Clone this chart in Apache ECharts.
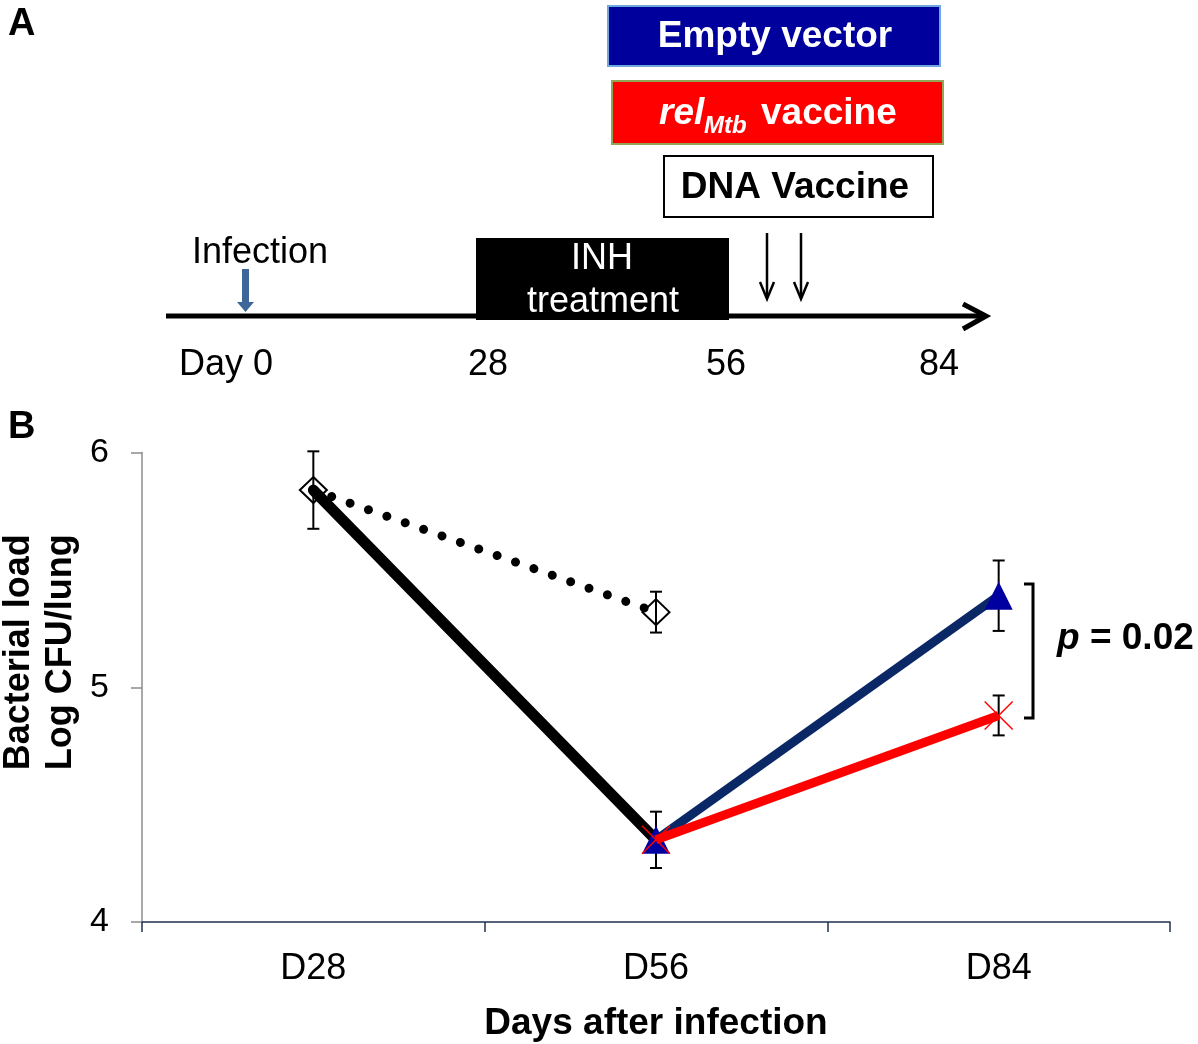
<!DOCTYPE html>
<html>
<head>
<meta charset="utf-8">
<title>Bacterial load</title>
<script src="https://cdn.jsdelivr.net/npm/echarts@6/dist/echarts.min.js"></script>
<style>
  html, body { margin: 0; padding: 0; background: #fff; }
  #main { width: 1198px; height: 1044px; }
</style>
</head>
<body>
<div id="main"></div>
<script>
// panel B data (log CFU / lung)
var categories = ['D28', 'D56', 'D84'];
var inhContinued = [5.84, 5.32, null];
var inhContinuedErr = [0.165, 0.087, null];
var inhStopped = [5.84, 4.35, null];
var inhStoppedErr = [null, 0.12, null];
var emptyVector = [null, 4.35, 5.39];
var emptyVectorErr = [null, null, 0.15];
var relVaccine = [null, 4.35, 4.88];
var relVaccineErr = [null, null, 0.085];
var yTicks = [4, 5, 6];
var pLabel = ['p', ' = 0.02'];

// panel A text
var timelineLabels = ['Day 0', '28', '56', '84'];

var FONT = '"Liberation Sans", Arial, sans-serif';

// error bars: [categoryIndex, value, err]
var errData = [];
[[inhContinued, inhContinuedErr], [inhStopped, inhStoppedErr],
 [emptyVector, emptyVectorErr], [relVaccine, relVaccineErr]].forEach(function (p) {
  p[0].forEach(function (v, i) {
    if (v != null && p[1][i] != null) errData.push([i, v, p[1][i]]);
  });
});

function renderErr(params, api) {
  var i = api.value(0), v = api.value(1), e = api.value(2);
  var hi = api.coord([i, v + e]);
  var lo = api.coord([i, v - e]);
  var w = 6;
  var st = { stroke: '#000', lineWidth: 2 };
  return {
    type: 'group',
    children: [
      { type: 'line', shape: { x1: hi[0], y1: hi[1], x2: lo[0], y2: lo[1] }, style: st },
      { type: 'line', shape: { x1: hi[0] - w, y1: hi[1], x2: hi[0] + w, y2: hi[1] }, style: st },
      { type: 'line', shape: { x1: lo[0] - w, y1: lo[1], x2: lo[0] + w, y2: lo[1] }, style: st }
    ]
  };
}

function txt(x, y, text, size, opts) {
  opts = opts || {};
  return {
    type: 'text', x: x, y: y, z: 10,
    style: {
      text: text,
      font: (opts.style || '') + ' ' + (opts.weight || 'normal') + ' ' + size + 'px ' + FONT,
      fill: opts.fill || '#000',
      align: opts.align || 'center',
      verticalAlign: 'middle'
    }
  };
}

var graphics = [
  txt(8, 25, 'A', 38, { weight: 'bold', align: 'left' }),
  txt(8, 428, 'B', 38, { weight: 'bold', align: 'left' }),

  // timeline
  { type: 'polyline', z: 10, shape: { points: [[166, 316], [984, 316]] }, style: { stroke: '#000', lineWidth: 5 } },
  { type: 'polyline', z: 10, shape: { points: [[963, 304], [986, 316], [963, 329]] }, style: { stroke: '#000', lineWidth: 5, fill: null } },

  // infection arrow
  { type: 'rect', z: 10, shape: { x: 242, y: 269, width: 7, height: 34 }, style: { fill: '#3e6699' } },
  { type: 'polygon', z: 10, shape: { points: [[237, 302], [254, 302], [245.5, 312]] }, style: { fill: '#3e6699' } },
  txt(260, 253, 'Infection', 36),

  // INH box
  { type: 'rect', z: 10, shape: { x: 476, y: 238, width: 253, height: 82 }, style: { fill: '#000' } },
  txt(602, 259, 'INH', 36, { fill: '#fff' }),
  txt(603, 302, 'treatment', 36, { fill: '#fff' }),

  // vaccine arrows
  { type: 'polyline', z: 10, shape: { points: [[767, 233], [767, 298]] }, style: { stroke: '#000', lineWidth: 2.5 } },
  { type: 'polyline', z: 10, shape: { points: [[760, 282], [767, 299], [774, 282]] }, style: { stroke: '#000', lineWidth: 2.5, fill: null } },
  { type: 'polyline', z: 10, shape: { points: [[801, 233], [801, 298]] }, style: { stroke: '#000', lineWidth: 2.5 } },
  { type: 'polyline', z: 10, shape: { points: [[794, 282], [801, 299], [808, 282]] }, style: { stroke: '#000', lineWidth: 2.5, fill: null } },

  // legend-like boxes
  { type: 'rect', z: 10, shape: { x: 608, y: 6, width: 332, height: 60 }, style: { fill: '#00009c', stroke: '#6fa8dc', lineWidth: 2 } },
  txt(775, 37, 'Empty vector', 37, { weight: 'bold', fill: '#fff' }),
  { type: 'rect', z: 10, shape: { x: 612, y: 81, width: 331, height: 63 }, style: { fill: '#ff0000', stroke: '#93a556', lineWidth: 2 } },
  txt(659, 114, 'rel', 37, { weight: 'bold', style: 'italic', fill: '#fff', align: 'left' }),
  txt(704, 126, 'Mtb', 24, { weight: 'bold', style: 'italic', fill: '#fff', align: 'left' }),
  txt(761, 114, 'vaccine', 37, { weight: 'bold', fill: '#fff', align: 'left' }),
  { type: 'rect', z: 10, shape: { x: 664, y: 156, width: 269, height: 61 }, style: { fill: '#fff', stroke: '#000', lineWidth: 2 } },
  txt(795, 188, 'DNA Vaccine', 37, { weight: 'bold' }),

  // day labels
  txt(226, 365, timelineLabels[0], 36),
  txt(488, 365, timelineLabels[1], 36),
  txt(726, 365, timelineLabels[2], 36),
  txt(939, 365, timelineLabels[3], 36),

  // significance bracket
  { type: 'polyline', z: 10, shape: { points: [[1024, 584], [1033, 584], [1033, 718], [1024, 718]] }, style: { stroke: '#000', lineWidth: 3, fill: null } },
  {
    type: 'text', x: 1057, y: 639, z: 10,
    style: {
      text: '{i|' + pLabel[0] + '}{b|' + pLabel[1] + '}',
      align: 'left', verticalAlign: 'middle',
      rich: {
        i: { font: 'italic bold 37px ' + FONT, fill: '#000' },
        b: { font: 'bold 37px ' + FONT, fill: '#000' }
      }
    }
  }
];

var chart = echarts.init(document.getElementById('main'));
chart.setOption({
  animation: false,
  backgroundColor: '#fff',
  grid: { left: 142, right: 28, top: 452.5, bottom: 122, containLabel: false, outerBoundsMode: 'none' },
  xAxis: {
    type: 'category',
    data: categories,
    boundaryGap: true,
    name: 'Days after infection',
    nameLocation: 'middle',
    nameGap: 83,
    nameMoveOverlap: false,
    nameTextStyle: { fontFamily: FONT, fontWeight: 'bold', fontSize: 37, color: '#000' },
    axisLine: { show: true, lineStyle: { color: '#1f3050', width: 1.5 } },
    axisTick: { show: true, alignWithLabel: false, length: 10, lineStyle: { color: '#1f3050', width: 1.5 } },
    axisLabel: { fontFamily: FONT, fontSize: 36, color: '#000', margin: 29 },
    splitLine: { show: false }
  },
  yAxis: {
    type: 'value',
    min: yTicks[0],
    max: yTicks[yTicks.length - 1],
    interval: 1,
    name: 'Bacterial load\nLog CFU/lung',
    nameLocation: 'middle',
    nameGap: 60,
    nameMoveOverlap: false,
    nameRotate: 90,
    nameTextStyle: {
      fontFamily: FONT, fontWeight: 'bold', fontSize: 36, color: '#000',
      lineHeight: 42, padding: [0, 0, 0, 70]
    },
    axisLine: { show: true, lineStyle: { color: '#8c8c8c', width: 1.5 } },
    axisTick: { show: true, length: 11, lineStyle: { color: '#8c8c8c', width: 1.5 } },
    axisLabel: { fontFamily: FONT, fontSize: 34, color: '#000', margin: 33 },
    splitLine: { show: false }
  },
  series: [
    {
      name: 'error',
      type: 'custom',
      renderItem: renderErr,
      data: errData,
      z: 1,
      silent: true
    },
    {
      name: 'INH continued',
      type: 'line',
      data: inhContinued,
      z: 2,
      symbol: 'diamond',
      symbolSize: [27, 26],
      itemStyle: { color: 'rgba(255,255,255,0)', borderColor: '#000', borderWidth: 2 },
      lineStyle: { color: '#000', width: 9, type: [0.01, 19.5], cap: 'round' }
    },
    {
      name: 'INH stopped',
      type: 'line',
      data: inhStopped,
      z: 2,
      symbol: 'none',
      lineStyle: { color: '#000', width: 11, cap: 'round' }
    },
    {
      name: 'Empty vector',
      type: 'line',
      data: emptyVector,
      z: 3,
      symbol: 'triangle',
      symbolSize: [28, 28],
      itemStyle: { color: '#0000a0' },
      lineStyle: { color: '#0b2866', width: 9 }
    },
    {
      name: 'relMtb vaccine',
      type: 'line',
      data: relVaccine,
      z: 4,
      symbol: 'path://M0,0L20,20M20,0L0,20',
      symbolSize: [28, 28],
      itemStyle: { color: '#ff0000', borderColor: '#ff0000', borderWidth: 1.5 },
      lineStyle: { color: '#ff0000', width: 9 }
    }
  ],
  graphic: graphics
});
</script>
</body>
</html>
